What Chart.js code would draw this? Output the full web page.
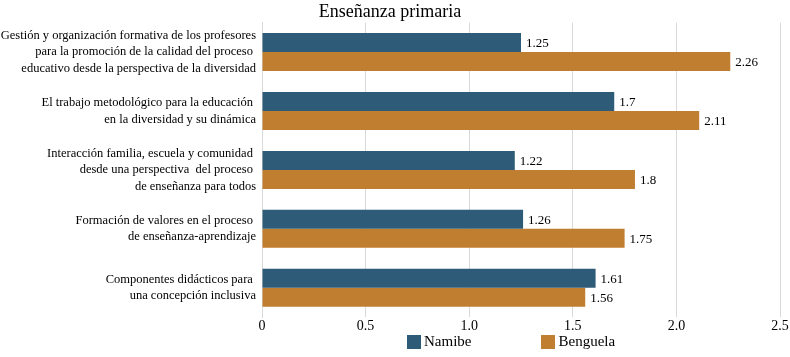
<!DOCTYPE html>
<html>
<head>
<meta charset="utf-8">
<script src="https://cdn.jsdelivr.net/npm/chart.js@4.4.0/dist/chart.umd.min.js"></script>
<style>
  html, body { margin: 0; padding: 0; background: #fff; }
  #wrap { position: relative; width: 790px; height: 357px; }
  #legend {
    position: absolute; top: 333px; left: 407px;
    display: flex; gap: 70px;
    font-family: "Liberation Serif", serif; font-size: 15px; color: #000;
  }
  #legend .item { display: flex; align-items: center; gap: 3px; }
  #legend .box { width: 14px; height: 14px; display: inline-block; }
</style>
</head>
<body>
<div id="wrap">
  <canvas id="chart" width="790" height="357"></canvas>
  <div id="legend"></div>
</div>
<script>
// Données du graphique
const categories = [
  ["Gestión y organización formativa de los profesores", "para la promoción de la calidad del proceso ", "educativo desde la perspectiva de la diversidad"],
  ["El trabajo metodológico para la educación ", "en la diversidad y su dinámica"],
  ["Interacción familia, escuela y comunidad ", "desde una perspectiva  del proceso ", "de enseñanza para todos"],
  ["Formación de valores en el proceso ", "de enseñanza-aprendizaje"],
  ["Componentes didácticos para ", "una concepción inclusiva"]
];
const namibe = [1.25, 1.7, 1.22, 1.26, 1.61];
const benguela = [2.26, 2.11, 1.8, 1.75, 1.56];
const seriesNames = ["Namibe", "Benguela"];
const seriesColors = ["#2E5C78", "#C07E30"];
const xTicks = [0, 0.5, 1, 1.5, 2, 2.5];

const serif = "'Liberation Serif', serif";

// Étiquettes de valeur au bout des barres
const valueLabels = {
  id: "valueLabels",
  afterDatasetsDraw(chart) {
    const ctx = chart.ctx;
    ctx.save();
    ctx.font = "13px " + serif;
    ctx.fillStyle = "#000";
    ctx.textAlign = "left";
    ctx.textBaseline = "middle";
    chart.data.datasets.forEach((ds, i) => {
      chart.getDatasetMeta(i).data.forEach((bar, j) => {
        ctx.fillText(String(ds.data[j]), bar.x + 5, bar.y + 1);
      });
    });
    ctx.restore();
  }
};

const ctx = document.getElementById("chart").getContext("2d");
new Chart(ctx, {
  type: "bar",
  data: {
    labels: categories,
    datasets: [
      { label: seriesNames[0], data: namibe, backgroundColor: seriesColors[0] },
      { label: seriesNames[1], data: benguela, backgroundColor: seriesColors[1] }
    ]
  },
  options: {
    indexAxis: "y",
    responsive: false,
    animation: false,
    datasets: { bar: { categoryPercentage: 0.645, barPercentage: 1.0 } },
    layout: { padding: { left: 0, right: 10, top: 0, bottom: 21 } },
    plugins: {
      legend: { display: false },
      tooltip: { enabled: false },
      title: {
        display: true,
        text: "Enseñanza primaria",
        color: "#000",
        font: { family: serif, size: 18, weight: "normal" },
        padding: { top: 1, bottom: 0 }
      }
    },
    scales: {
      x: {
        min: 0,
        max: 2.5,
        afterBuildTicks: (scale) => { scale.ticks = xTicks.map(v => ({ value: v })); },
        grid: { color: "#d9d9d9", drawTicks: false },
        border: { display: false },
        ticks: { color: "#000", padding: 1, font: { family: serif, size: 14 } }
      },
      y: {
        afterFit: (scale) => { scale.width = 262; },
        grid: { display: false, drawTicks: false },
        border: { display: true, color: "#d9d9d9" },
        ticks: { color: "#000", padding: 6, font: { family: serif, size: 12.5, lineHeight: 1.32 } }
      }
    }
  },
  plugins: [valueLabels]
});

// Légende en bas
const legend = document.getElementById("legend");
seriesNames.forEach((name, i) => {
  const item = document.createElement("span");
  item.className = "item";
  item.innerHTML = '<span class="box" style="background:' + seriesColors[i] + '"></span>' + name;
  legend.appendChild(item);
});
</script>
</body>
</html>
